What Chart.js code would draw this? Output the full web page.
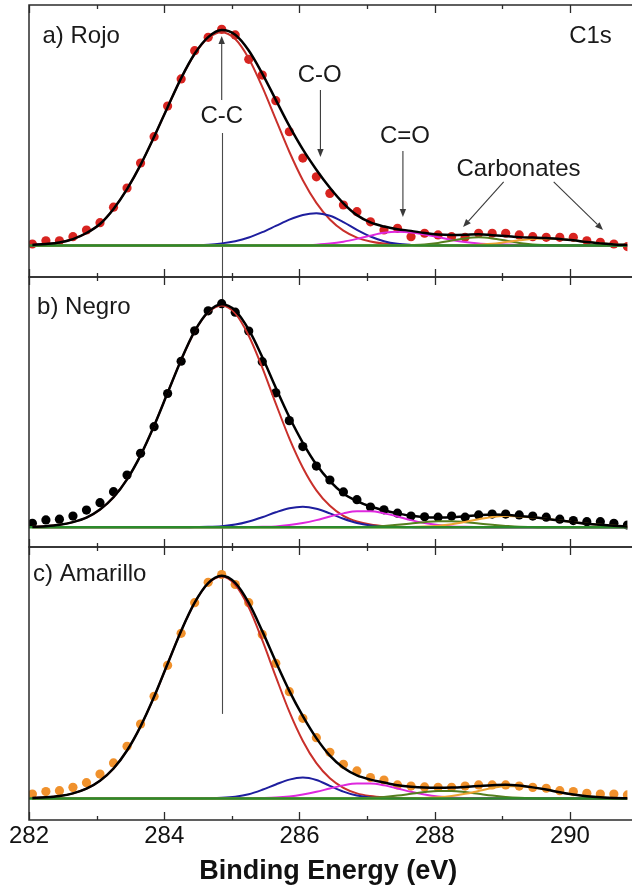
<!DOCTYPE html>
<html><head><meta charset="utf-8">
<script src="https://cdn.jsdelivr.net/npm/chart.js"></script>
<style>
html,body{margin:0;padding:0;background:#fff;}
#wrap{position:relative;width:632px;height:885px;overflow:hidden;background:#fff;}
#wrap canvas{position:absolute;left:0;top:0;}
</style></head><body>
<div id="wrap">
<canvas id="ca" width="632" height="885"></canvas>
<canvas id="cb" width="632" height="885"></canvas>
<canvas id="cc" width="632" height="885"></canvas>
</div>
<script>
// ---------- DATA ----------
const energy = [282.05,282.25,282.45,282.65,282.85,283.05,283.25,283.45,283.65,283.85,284.05,284.25,284.45,284.65,284.85,
 285.05,285.25,285.45,285.65,285.85,286.05,286.25,286.45,286.65,286.85,287.05,287.25,287.45,287.65,287.85,
 288.05,288.25,288.45,288.65,288.85,289.05,289.25,289.45,289.65,289.85,290.05,290.25,290.45,290.65,290.85];

// a) Rojo
const rojoDots = [0.007,0.022,0.022,0.041,0.072,0.106,0.178,0.267,0.383,0.505,0.647,0.773,0.904,0.966,1.003,
 0.977,0.864,0.791,0.672,0.528,0.406,0.319,0.242,0.188,0.157,0.110,0.072,0.080,0.041,0.057,
 0.049,0.041,0.038,0.057,0.057,0.057,0.049,0.041,0.038,0.038,0.038,0.022,0.015,0.007,-0.005];
const rojoFit = [0.003,0.007,0.014,0.030,0.058,0.100,0.170,0.262,0.374,0.504,0.642,0.777,0.890,0.967,1.000,
 0.978,0.905,0.798,0.676,0.555,0.446,0.352,0.268,0.196,0.141,0.107,0.088,0.076,0.068,0.058,
 0.051,0.049,0.050,0.052,0.048,0.044,0.039,0.037,0.035,0.030,0.024,0.016,0.010,0.005,0.003];
const rojoCC = [0.003,0.007,0.014,0.030,0.058,0.100,0.170,0.262,0.374,0.504,0.642,0.776,0.888,0.963,0.990,
 0.958,0.868,0.736,0.585,0.435,0.303,0.198,0.121,0.069,0.037,0.019,0.009,0.004,0.002,0.001,
 0,0,0,0,0,0,0,0,0,0,0,0,0,0,0];
const rojoCO = [0,0,0,0,0,0,0,0,0,0,0,0.001,0.002,0.004,0.010,
 0.020,0.037,0.062,0.091,0.120,0.142,0.150,0.138,0.109,0.073,0.042,0.020,0.008,0.003,0.001,
 0,0,0,0,0,0,0,0,0,0,0,0,0,0,0];
const rojoCdO = [0,0,0,0,0,0,0,0,0,0,0,0,0,0,0,
 0,0,0,0,0,0.001,0.004,0.009,0.018,0.031,0.046,0.059,0.064,0.061,0.051,
 0.039,0.026,0.016,0.010,0.007,0.005,0.003,0.001,0,0,0,0,0,0,0];
const rojoCarbA = [0,0,0,0,0,0,0,0,0,0,0,0,0,0,0,
 0,0,0,0,0,0,0,0,0,0,0,0,0,0.002,0.005,
 0.012,0.023,0.033,0.038,0.033,0.023,0.012,0.005,0.002,0,0,0,0,0,0];
const rojoCarbB = [0,0,0,0,0,0,0,0,0,0,0,0,0,0,0,
 0,0,0,0,0,0,0,0,0,0,0,0,0,0,0,
 0,0,0.001,0.004,0.008,0.016,0.024,0.031,0.033,0.030,0.024,0.016,0.010,0.005,0.003];

// b) Negro
const negroDots = [0.018,0.033,0.036,0.050,0.077,0.110,0.159,0.233,0.330,0.449,0.597,0.741,0.877,0.966,0.998,
 0.960,0.876,0.739,0.600,0.476,0.360,0.273,0.211,0.158,0.123,0.090,0.078,0.063,0.050,0.047,
 0.045,0.050,0.045,0.055,0.059,0.059,0.055,0.050,0.045,0.036,0.030,0.025,0.025,0.018,0.010];
const negroFit = [0.002,0.005,0.011,0.023,0.043,0.079,0.134,0.214,0.321,0.453,0.600,0.747,0.875,0.961,0.995,
 0.967,0.882,0.760,0.623,0.492,0.377,0.280,0.206,0.151,0.117,0.093,0.076,0.062,0.051,0.045,
 0.044,0.045,0.049,0.054,0.057,0.056,0.050,0.045,0.038,0.030,0.023,0.016,0.011,0.007,0.004];
const negroCC = [0.002,0.005,0.011,0.023,0.043,0.079,0.134,0.214,0.321,0.453,0.600,0.747,0.874,0.959,0.990,
 0.955,0.855,0.713,0.552,0.397,0.266,0.165,0.096,0.051,0.026,0.012,0.005,0.002,0.001,0,
 0,0,0,0,0,0,0,0,0,0,0,0,0,0,0];
const negroCO = [0,0,0,0,0,0,0,0,0,0,0,0,0.001,0.002,0.005,
 0.012,0.026,0.045,0.067,0.085,0.092,0.083,0.062,0.038,0.019,0.008,0.003,0.001,0,0,
 0,0,0,0,0,0,0,0,0,0,0,0,0,0,0];
const negroCdO = [0,0,0,0,0,0,0,0,0,0,0,0,0,0,0,
 0,0.001,0.002,0.004,0.010,0.019,0.032,0.048,0.062,0.071,0.071,0.062,0.048,0.032,0.019,
 0.010,0.004,0.002,0.001,0,0,0,0,0,0,0,0,0,0,0];
const negroCarbA = [0,0,0,0,0,0,0,0,0,0,0,0,0,0,0,
 0,0,0,0,0,0,0,0,0,0.001,0.002,0.006,0.011,0.017,0.023,
 0.027,0.027,0.023,0.017,0.011,0.006,0.002,0.001,0,0,0,0,0,0,0];
const negroCarbB = [0,0,0,0,0,0,0,0,0,0,0,0,0,0,0,
 0,0,0,0,0,0,0,0,0,0,0,0,0,0.001,0.003,
 0.007,0.014,0.024,0.036,0.046,0.050,0.048,0.044,0.038,0.030,0.023,0.016,0.011,0.007,0.004];

// c) Amarillo
const amarilloDots = [0.020,0.031,0.035,0.050,0.071,0.110,0.160,0.235,0.335,0.460,0.600,0.744,0.882,0.974,1.009,
 0.964,0.882,0.739,0.609,0.481,0.361,0.274,0.208,0.154,0.124,0.094,0.083,0.061,0.056,0.052,
 0.050,0.050,0.056,0.061,0.061,0.061,0.056,0.050,0.046,0.035,0.031,0.023,0.020,0.020,0.016];
const amarilloFit = [0.002,0.005,0.011,0.023,0.044,0.080,0.135,0.216,0.325,0.458,0.607,0.755,0.882,0.970,1.003,
 0.971,0.881,0.754,0.616,0.485,0.371,0.272,0.193,0.138,0.104,0.085,0.072,0.060,0.053,0.049,
 0.048,0.049,0.052,0.056,0.060,0.062,0.058,0.050,0.040,0.028,0.018,0.010,0.005,0.002,0.001];
const amarilloCC = [0.002,0.005,0.011,0.023,0.044,0.080,0.135,0.216,0.325,0.458,0.607,0.755,0.882,0.969,1.000,
 0.963,0.861,0.713,0.549,0.391,0.259,0.159,0.091,0.048,0.023,0.011,0.005,0.002,0.001,0,
 0,0,0,0,0,0,0,0,0,0,0,0,0,0,0];
const amarilloCO = [0,0,0,0,0,0,0,0,0,0,0,0,0,0.001,0.003,
 0.008,0.019,0.039,0.063,0.085,0.094,0.083,0.057,0.031,0.013,0.004,0.001,0,0,0,
 0,0,0,0,0,0,0,0,0,0,0,0,0,0,0];
const amarilloCdO = [0,0,0,0,0,0,0,0,0,0,0,0,0,0,0,
 0,0.001,0.002,0.004,0.009,0.018,0.030,0.045,0.059,0.067,0.067,0.059,0.045,0.030,0.018,
 0.009,0.004,0.002,0.001,0,0,0,0,0,0,0,0,0,0,0];
const amarilloCarbA = [0,0,0,0,0,0,0,0,0,0,0,0,0,0,0,
 0,0,0,0,0,0,0,0,0,0.001,0.003,0.007,0.013,0.021,0.029,
 0.034,0.034,0.029,0.021,0.013,0.007,0.003,0.001,0,0,0,0,0,0,0];
const amarilloCarbB = [0,0,0,0,0,0,0,0,0,0,0,0,0,0,0,
 0,0,0,0,0,0,0,0,0,0,0,0,0,0.001,0.002,
 0.005,0.011,0.021,0.034,0.047,0.055,0.055,0.049,0.040,0.028,0.018,0.010,0.005,0.002,0.001];

const xTickLabels = [282, 284, 286, 288, 290];
const panelNames = ['a) Rojo', 'b) Negro', 'c) Amarillo'];
const panelNameX = [282.2, 282.12, 282.06];
const panelNameY = [0.940, 0.952, 0.980];
const ccLineEnergy = 284.85;
const annotTexts = ['C-C', 'C-O', 'C=O', 'Carbonates', 'C1s'];
const annotX = [284.85, 286.30, 287.56, 289.24, 290.62];
const annotY = [0.568, 0.759, 0.476, 0.322, 0.940];
const arrowFromX = [286.31, 287.53, 289.02, 289.76, 284.85];
const arrowFromY = [0.722, 0.439, 0.295, 0.295, 0.675];
const arrowToX = [286.31, 287.53, 288.42, 290.49, 284.85];
const arrowToY = [0.411, 0.132, 0.086, 0.072, 0.972];
const xTitle = 'Binding Energy (eV)';

// ---------- RENDER ----------
Chart.defaults.font.family = "'Liberation Sans', Arial, sans-serif";
const X_MIN = 282, X_MAX = 290.85;

function pts(arr) { return energy.map((e, i) => ({x: e, y: arr[i]})); }
function curve(arr, color, width, order) {
  return {data: pts(arr), borderColor: color, borderWidth: width, pointRadius: 0,
    fill: false, cubicInterpolationMode: 'monotone', order: order};
}
function drawArrow(ctx, x1, y1, x2, y2) {
  const ang = Math.atan2(y2 - y1, x2 - x1);
  const hl = 8, hw = 3.2;
  const bx = x2 - hl * Math.cos(ang), by = y2 - hl * Math.sin(ang);
  ctx.beginPath(); ctx.moveTo(x1, y1); ctx.lineTo(bx, by); ctx.stroke();
  ctx.beginPath();
  ctx.moveTo(x2, y2);
  ctx.lineTo(bx + hw * Math.sin(ang), by - hw * Math.cos(ang));
  ctx.lineTo(bx - hw * Math.sin(ang), by + hw * Math.cos(ang));
  ctx.closePath(); ctx.fill();
}

const decorPlugin = {
  id: 'decor',
  beforeDatasetsDraw(chart, args, o) {
    const {ctx, scales: {x, y}} = chart;
    ctx.save();
    ctx.strokeStyle = '#4a4a4a'; ctx.lineWidth = 1.1;
    const px = Math.round(x.getPixelForValue(ccLineEnergy)) + 0.5;
    o.ccSegments.forEach(s => {
      ctx.beginPath(); ctx.moveTo(px, y.getPixelForValue(s[0])); ctx.lineTo(px, y.getPixelForValue(s[1])); ctx.stroke();
    });
    ctx.restore();
  },
  afterDatasetsDraw(chart, args, o) {
    const {ctx, chartArea: {left, right, top, bottom}, scales: {x, y}} = chart;
    ctx.save();
    ctx.strokeStyle = '#2b2b2b'; ctx.lineWidth = 1.5;
    ctx.beginPath();
    ctx.moveTo(right + 5, top); ctx.lineTo(left, top); ctx.lineTo(left, bottom); ctx.lineTo(right + 5, bottom);
    ctx.stroke();
    ctx.lineWidth = 1.3;
    for (let v = 282; v <= 290; v++) {
      const px = Math.round(x.getPixelForValue(v)) + 0.5;
      const len = v % 2 === 0 ? 8 : 4;
      ctx.beginPath();
      ctx.moveTo(px, top); ctx.lineTo(px, top + len);
      ctx.moveTo(px, bottom); ctx.lineTo(px, bottom - len);
      ctx.stroke();
    }
    ctx.strokeStyle = '#3a3a3a'; ctx.fillStyle = '#3a3a3a'; ctx.lineWidth = 1.1;
    if (o.arrows) {
      arrowFromX.forEach((ax, i) => drawArrow(ctx,
        x.getPixelForValue(ax), y.getPixelForValue(arrowFromY[i]),
        x.getPixelForValue(arrowToX[i]), y.getPixelForValue(arrowToY[i])));
    }
    ctx.fillStyle = '#1a1a1a';
    ctx.font = "24px 'Liberation Sans', Arial, sans-serif";
    ctx.textBaseline = 'alphabetic';
    ctx.textAlign = 'left';
    ctx.fillText(panelNames[o.idx], x.getPixelForValue(panelNameX[o.idx]), y.getPixelForValue(panelNameY[o.idx]));
    if (o.arrows) {
      annotTexts.forEach((t, i) => {
        ctx.textAlign = (t === 'C1s') ? 'right' : 'center';
        ctx.fillText(t, x.getPixelForValue(annotX[i]), y.getPixelForValue(annotY[i]));
      });
    }
    ctx.restore();
  }
};

const panels = [
  {id: 'ca', dots: rojoDots, dotColor: '#d82420', fit: rojoFit,
   comps: [rojoCC, rojoCO, rojoCdO, rojoCarbA, rojoCarbB],
   yMin: -0.146, yMax: 1.116, pad: {left: 29, right: 0, top: 5, bottom: 608},
   cc: [[0.522, -0.146]], arrows: true, axis: false},
  {id: 'cb', dots: negroDots, dotColor: '#000000', fit: negroFit,
   comps: [negroCC, negroCO, negroCdO, negroCarbA, negroCarbB],
   yMin: -0.088, yMax: 1.117, pad: {left: 29, right: 0, top: 277, bottom: 338},
   cc: [[1.117, -0.088]], arrows: false, axis: false},
  {id: 'cc', dots: amarilloDots, dotColor: '#f0912c', fit: amarilloFit,
   comps: [amarilloCC, amarilloCO, amarilloCdO, amarilloCarbA, amarilloCarbB],
   yMin: -0.097, yMax: 1.133, pad: {left: 29, right: 0, top: 547, bottom: 0},
   cc: [[1.133, 0.381]], arrows: false, axis: true}
];
const compColors = ['#c9302b', '#1e1e9e', '#de28de', '#567f1e', '#eda332'];

panels.forEach((p, idx) => {
  const datasets = [
    curve(p.fit, '#000000', 2.5, 0),
    {data: [{x: X_MIN, y: 0}, {x: X_MAX, y: 0}], borderColor: '#2b8a2b', borderWidth: 2.5, pointRadius: 0, order: 1},
  ];
  p.comps.forEach((c, i) => datasets.push(curve(c, compColors[i], 2, 2 + (4 - i))));
  datasets.push({data: pts(p.dots), showLine: false, pointRadius: 4.6, pointBackgroundColor: p.dotColor,
    pointBorderWidth: 0, borderColor: p.dotColor, order: 10});

  new Chart(document.getElementById(p.id), {
    type: 'line',
    data: {datasets},
    options: {
      animation: false, responsive: false, maintainAspectRatio: false,
      layout: {padding: p.pad},
      events: [],
      plugins: {legend: {display: false}, tooltip: {enabled: false},
        decor: {idx, ccSegments: p.cc, arrows: p.arrows}},
      scales: {
        x: {type: 'linear', min: X_MIN, max: X_MAX, display: p.axis, position: 'bottom',
          grid: {display: false, drawTicks: false}, border: {display: false},
          ticks: {stepSize: 2, includeBounds: false, autoSkip: false, maxRotation: 0,
            padding: 2, color: '#111', font: {size: 24},
            callback: v => xTickLabels.includes(v) ? String(v) : ''},
          title: {display: p.axis, text: xTitle, color: '#111', padding: 0,
            font: {size: 27, weight: 'bold', lineHeight: 1}},
          afterFit: s => { if (p.axis) s.height = 65; }},
        y: {min: p.yMin, max: p.yMax, display: false}
      }
    },
    plugins: [decorPlugin]
  });
});
</script>
</body></html>
